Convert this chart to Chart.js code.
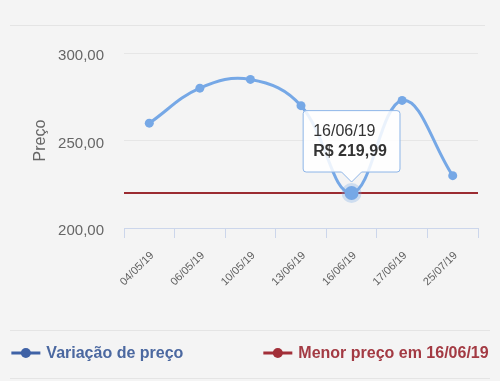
<!DOCTYPE html>
<html>
<head>
<meta charset="utf-8">
<script src="https://cdn.jsdelivr.net/npm/chart.js@4"></script>
<style>
  html, body { margin: 0; padding: 0; background: #f4f4f4; }
  #wrap { width: 500px; height: 381px; position: relative; }
</style>
</head>
<body>
<div id="wrap"><canvas id="c" width="500" height="381"></canvas></div>
<script>
// ---- data ----
const categories = ['04/05/19', '06/05/19', '10/05/19', '13/06/19', '16/06/19', '17/06/19', '25/07/19'];
const prices = [259.9, 279.9, 284.9, 269.9, 219.99, 272.9, 229.9];
const yTicks = [200, 300];
const seriesNames = ['Variação de preço', 'Menor preço em 16/06/19'];
const axisTitle = 'Preço';

const minPrice = Math.min(...prices);
const minIndex = prices.indexOf(minPrice);

const FONT = "'Liberation Sans', Arial, Helvetica, sans-serif";
const fmt = v => v.toFixed(2).replace('.', ',');

const bgPlugin = {
  id: 'bg',
  beforeDraw(chart) {
    const ctx = chart.ctx;
    ctx.save();
    ctx.fillStyle = '#f4f4f4';
    ctx.fillRect(0, 0, chart.width, chart.height);
    ctx.strokeStyle = '#e4e4e4';
    ctx.lineWidth = 1;
    ctx.beginPath();
    ctx.moveTo(10, 25.5); ctx.lineTo(485, 25.5);
    ctx.moveTo(10, 330.5); ctx.lineTo(490, 330.5);
    ctx.moveTo(10, 378.5); ctx.lineTo(490, 378.5);
    ctx.stroke();
    ctx.restore();
  }
};

const legendPlugin = {
  id: 'customLegend',
  afterDraw(chart, args, opts) {
    const ctx = chart.ctx;
    ctx.save();
    ctx.font = 'bold 16px ' + FONT;
    ctx.textBaseline = 'middle';
    const symW = 29, gapText = 6, gapItems = 80;
    const items = chart.data.datasets.map((ds, i) => ({
      label: ds.label,
      w: symW + gapText + ctx.measureText(ds.label).width,
      style: opts.items[i]
    }));
    const total = items.reduce((s, it) => s + it.w, 0) + gapItems * (items.length - 1);
    let x = (chart.width - total) / 2;
    const y = opts.y;
    items.forEach(it => {
      ctx.strokeStyle = it.style.symbol;
      ctx.fillStyle = it.style.symbol;
      ctx.lineWidth = 3;
      ctx.beginPath();
      ctx.moveTo(x, y); ctx.lineTo(x + symW, y);
      ctx.stroke();
      ctx.beginPath();
      ctx.arc(x + symW / 2, y, 5, 0, Math.PI * 2);
      ctx.fill();
      ctx.fillStyle = it.style.text;
      ctx.fillText(it.label, x + symW + gapText, y + 1);
      x += it.w + gapItems;
    });
    ctx.restore();
  }
};

const chart = new Chart(document.getElementById('c'), {
  type: 'line',
  data: {
    labels: categories,
    datasets: [
      {
        label: seriesNames[0],
        data: prices,
        borderColor: '#76a8e6',
        backgroundColor: '#76a8e6',
        borderWidth: 3,
        tension: 0.4,
        pointRadius: 4.5,
        pointBorderWidth: 0,
        pointHoverRadius: 7,
        pointHoverBorderWidth: 6,
        pointHoverBackgroundColor: '#76a8e6',
        pointHoverBorderColor: 'rgba(118,168,230,0.3)',
        order: 0
      },
      {
        label: seriesNames[1],
        xAxisID: 'x2',
        data: [{ x: 0, y: minPrice }, { x: 1, y: minPrice }],
        borderColor: '#9b2b31',
        backgroundColor: '#9b2b31',
        borderWidth: 2,
        pointRadius: 0,
        pointHoverRadius: 0,
        order: 1
      }
    ]
  },
  options: {
    responsive: false,
    animation: false,
    events: [],
    layout: { padding: { left: 0, right: 22, top: 53, bottom: 53 } },
    scales: {
      x: {
        type: 'category',
        offset: true,
        grid: {
          offset: true,
          drawOnChartArea: false,
          drawTicks: true,
          tickLength: 10,
          color: '#ccd6eb'
        },
        border: { display: true, color: '#ccd6eb' },
        ticks: {
          minRotation: 45,
          maxRotation: 45,
          autoSkip: false,
          padding: 11,
          labelOffset: 3,
          color: '#606060',
          font: { family: FONT, size: 11 }
        },
        afterFit(scale) { scale.height = 100; }
      },
      x2: {
        type: 'linear',
        display: false,
        min: 0,
        max: 1
      },
      y: {
        min: yTicks[0],
        max: yTicks[1],
        ticks: {
          stepSize: 50,
          padding: 20,
          labelOffset: 3,
          color: '#666',
          font: { family: FONT, size: 15 },
          callback: v => fmt(v)
        },
        grid: { color: '#e6e6e6', drawTicks: false },
        border: { display: false },
        title: {
          display: true,
          text: axisTitle,
          color: '#666',
          font: { family: FONT, size: 16 },
          padding: { top: 31, bottom: 0 }
        },
        afterFit(scale) { scale.width = 124; }
      }
    },
    plugins: {
      legend: { display: false },
      customLegend: {
        y: 353,
        items: [
          { symbol: '#3f62a6', text: '#4b68a0' },
          { symbol: '#a22f38', text: '#a33a43' }
        ]
      },
      tooltip: {
        enabled: true,
        filter: item => item.datasetIndex === 0,
        backgroundColor: 'rgba(255,255,255,0.85)',
        borderColor: '#8db5e8',
        borderWidth: 1,
        cornerRadius: 3,
        displayColors: false,
        yAlign: 'bottom',
        xAlign: 'center',
        caretSize: 10,
        caretPadding: 11,
        padding: { top: 11, bottom: 11, left: 10, right: 13 },
        titleColor: '#333',
        bodyColor: '#333',
        titleFont: { family: FONT, size: 16, weight: 'normal' },
        bodyFont: { family: FONT, size: 16, weight: 'bold' },
        titleMarginBottom: 1,
        callbacks: {
          title: items => items[0].label,
          label: item => 'R$ ' + fmt(item.parsed.y)
        }
      }
    }
  },
  plugins: [bgPlugin, legendPlugin]
});

const active = [{ datasetIndex: 0, index: minIndex }];
chart.setActiveElements(active);
const pt = chart.getDatasetMeta(0).data[minIndex];
chart.tooltip.setActiveElements(active, { x: pt.x, y: pt.y });
chart.update();
</script>
</body>
</html>
